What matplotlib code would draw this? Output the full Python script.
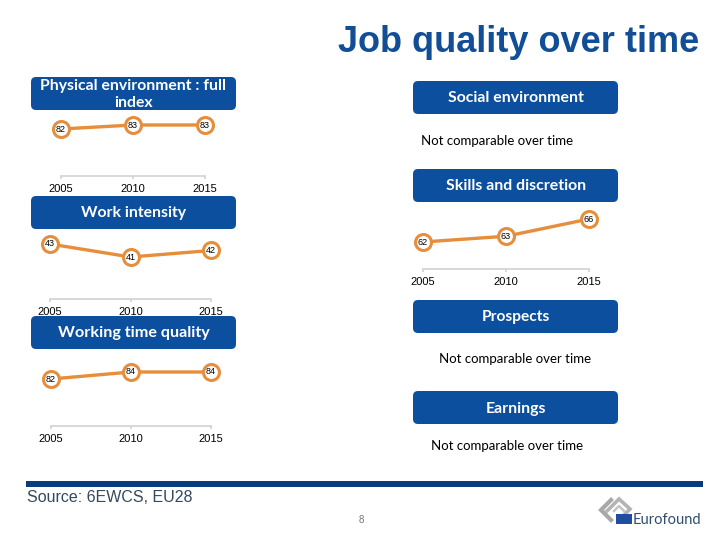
import matplotlib
matplotlib.use("Agg")
import matplotlib.pyplot as plt
from matplotlib.patches import FancyBboxPatch, Rectangle

W, H = 720, 540
BLUE = "#0B4F9E"
ORANGE = "#E68E3B"
AXIS_GREY = "#D2D2D2"

years = [2005, 2010, 2015]
physical_values = [82, 83, 83]
intensity_values = [43, 41, 42]
working_time_values = [82, 84, 84]
skills_values = [62, 63, 66]

not_comparable = "Not comparable over time"

fig = plt.figure(figsize=(W / 100, H / 100), dpi=100, facecolor="white")

# overlay in pixel coords, for the boxes and loose text
bg = fig.add_axes([0, 0, 1, 1])
bg.set_xlim(0, W)
bg.set_ylim(H, 0)
bg.axis("off")


def header(x, y, w, h, label, text_x=None, size=11.3):
    box = FancyBboxPatch(
        (x + 4, y + 4), w - 8, h - 8,
        boxstyle="round,pad=4,rounding_size=5",
        fc=BLUE, ec="none",
    )
    bg.add_patch(box)
    if text_x is None:
        text_x = x + w / 2
    bg.text(text_x, y + h / 2 + 1, label, color="white", ha="center", va="center",
            family="Lato", fontweight="bold", fontsize=size, linespacing=1.2)


def panel(values, x0, x1, base, y_ref, unit):
    # y_ref = pixel row of the first value, unit = pixels per index point
    top_val = max(values)
    top_px = y_ref - (top_val - values[0]) * unit
    low_val = top_val - (base - top_px) / unit
    ax = fig.add_axes([x0 / W, 1 - base / H, (x1 - x0) / W, (base - top_px) / H])
    ax.set_xlim(years[0], years[-1])
    ax.set_ylim(low_val, top_val)
    ax.patch.set_alpha(0)
    ax.plot(years, values, color=ORANGE, lw=2.4, marker="o", ms=11.5,
            mfc="white", mec=ORANGE, mew=2.2, clip_on=False, zorder=3)
    for yr, val in zip(years, values):
        ax.text(yr, val, str(val), ha="center", va="center", fontsize=6.5,
                family="Liberation Sans", zorder=4)
    for side in ["top", "left", "right"]:
        ax.spines[side].set_visible(False)
    ax.spines["bottom"].set_color(AXIS_GREY)
    ax.spines["bottom"].set_linewidth(1.2)
    ax.set_yticks([])
    ax.set_xticks(years)
    ax.tick_params(axis="x", color=AXIS_GREY, length=2.5, width=1.2, pad=3.5)
    for lab in ax.get_xticklabels():
        lab.set_family("Liberation Sans")
        lab.set_fontsize(8)
    return ax


bg.text(699, 51.5, "Job quality over time", ha="right", va="baseline", color="#124E96",
        family="Liberation Sans", fontweight="bold", fontsize=26)

header(31, 77, 205, 33, "Physical environment : full\nindex", size=11.3)
header(31, 196, 205, 33, "Work intensity", size=11.3)
header(31, 316, 205, 33, "Working time quality", size=11.6)
header(413, 81, 205, 33, "Social environment", text_x=516, size=11.4)
header(413, 169, 205, 33, "Skills and discretion", text_x=516, size=11.4)
header(413, 300, 205, 33, "Prospects", text_x=516, size=11.2)
header(413, 391, 205, 33, "Earnings", text_x=516, size=11.4)

panel(physical_values, 61, 205, 176, 129, 4)
panel(intensity_values, 50, 211, 299, 244, 6.5)
panel(working_time_values, 51, 211, 426, 379, 3.5)
panel(skills_values, 423, 589, 269, 242, 5.75)

bg.text(421, 141, not_comparable, ha="left", va="center", family="Lato", fontsize=9.5)
bg.text(439, 359, not_comparable, ha="left", va="center", family="Lato", fontsize=9.5)
bg.text(431, 446, not_comparable, ha="left", va="center", family="Lato", fontsize=9.5)

# footer
bg.add_patch(Rectangle((26, 481), 677, 6, fc="#0A3A7F", ec="none"))
bg.text(27, 497, "Source: 6EWCS, EU28", ha="left", va="center", color="#34495E",
        family="Liberation Sans", fontsize=11.5)
bg.text(361, 520, "8", ha="center", va="center", color="#777777",
        family="Liberation Sans", fontsize=7)

# logo
bg.plot([611, 601, 611], [500, 510, 520], color="#A8A8A8", lw=3, solid_joinstyle="miter")
bg.plot([607, 619, 630, 625], [511, 499, 509, 514], color="#B4B4B4", lw=2.6, solid_joinstyle="miter")
bg.plot([614, 619, 624], [511, 506, 511], color="#C4C4C4", lw=1.8)
bg.add_patch(Rectangle((616, 514), 16, 10, fc="#1F4E9E", ec="none", zorder=3))
bg.text(633, 519.5, "Eurofound", ha="left", va="center", color="#2F4D73",
        family="Lato", fontsize=10.5)

fig.savefig("out.png", dpi=100)
